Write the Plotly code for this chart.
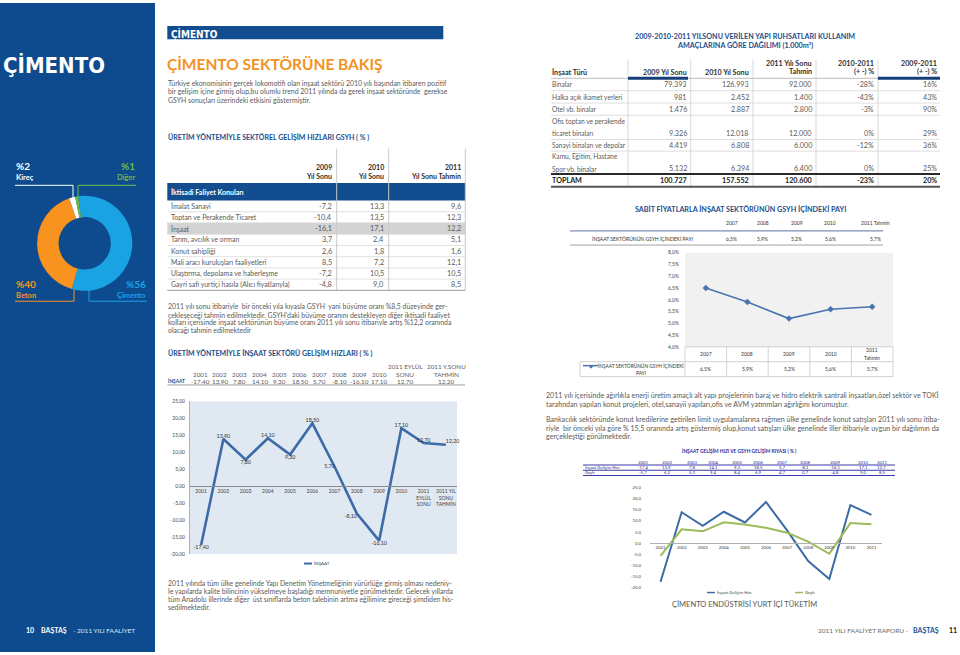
import plotly.graph_objects as go

W, H = 960, 655
def X(p): return p / W
def Y(p): return 1 - p / H

FONT = "Lato"
NARROW = "DejaVu Sans Condensed, Roboto Condensed, Roboto, sans-serif"
SIDEBAR = "#0d4b8e"
HEAD_BLUE = "#1b4d8c"
ORANGE = "#f39224"
TXT = "#5b5b5b"
DARK = "#2f2f2f"
LINE_BLUE = "#3d6ba7"
GREEN = "#9bbb59"
BODY = 6.9

# ---------------- data ----------------
mix_labels = ["Çimento", "Beton", "Kireç", "Diğer"]
mix_values = [56, 40, 2, 1]
mix_colors = ["#1aa3e3", "#f7931e", "#ffffff", "#6cbb45"]

gsyh_sectors = ["İmalat Sanayi", "Toptan ve Perakende Ticaret", "İnşaat",
                "Tarım, avcılık ve orman", "Konut sahipliği",
                "Mali aracı kuruluşları faaliyetleri",
                "Ulaştırma, depolama ve haberleşme",
                "Gayri safi yurtiçi hasıla (Alıcı fiyatlarıyla)"]
gsyh_2009 = [-7.2, -10.4, -16.1, 3.7, 2.6, 8.5, -7.2, -4.8]
gsyh_2010 = [13.3, 13.5, 17.1, 2.4, 1.8, 7.2, 10.5, 9.0]
gsyh_2011 = [9.6, 12.3, 12.2, 5.1, 1.6, 12.1, 10.5, 8.5]

insaat_table_heads = ["2001", "2002", "2003", "2004", "2005", "2006", "2007", "2008",
                      "2009", "2010", "2011 EYLÜL<br>SONU", "2011 Y.SONU<br>TAHMİN"]
insaat_axis_labels = ["2001", "2002", "2003", "2004", "2005", "2006", "2007", "2008",
                      "2009", "2010", "2011<br>EYLÜL<br>SONU", "2011 YIL<br>SONU<br>TAHMİN"]
insaat_growth = [-17.40, 13.90, 7.80, 14.10, 9.30, 18.50, 5.70, -8.10, -16.10, 17.10, 12.70, 12.20]
insaat_ticks = [25, 20, 15, 10, 5, 0, -5, -10, -15, -20]

permit_types = ["Binalar", "Halka açık ikamet yerleri", "Otel vb. binalar",
                "Ofis toptan ve perakende|ticaret binaları", "Sanayi binaları ve depolar",
                "Kamu, Eğitim, Hastane|Spor vb. binalar"]
permit_2009 = [79393, 981, 1476, 9326, 4419, 5132]
permit_2010 = [126993, 2452, 2887, 12018, 6808, 6394]
permit_2011 = [92000, 1400, 2800, 12000, 6000, 6400]
permit_chg_1011 = [-28, -43, -3, 0, -12, 0]
permit_chg_0911 = [16, 43, 90, 29, 36, 25]
permit_total_chg = [-23, 20]

share_years = ["2007", "2008", "2009", "2010", "2011 Tahmin"]
share_values = [6.5, 5.9, 5.2, 5.6, 5.7]
share_ticks = [4.0, 4.5, 5.0, 5.5, 6.0, 6.5, 7.0, 7.5, 8.0]

cmp_years = ["2001", "2002", "2003", "2004", "2005", "2006", "2007", "2008", "2009", "2010", "2011"]
cmp_insaat = [-17.4, 13.9, 7.8, 14.1, 9.3, 18.5, 5.7, -8.1, -16.1, 17.1, 12.7]
cmp_gsyh = [-5.7, 6.2, 5.3, 9.4, 8.4, 6.9, 4.7, 0.7, -4.8, 9.0, 8.5]
cmp_ticks = [25, 20, 15, 10, 5, 0, -5, -10, -15, -20]


def c1(v): return f"{v:.1f}".replace(".", ",")
def c2(v): return f"{v:.2f}".replace(".", ",")
def th(v): return f"{v:,}".replace(",", ".")

ann = []
shapes = []

def txt(x, y, s, size=BODY, color=TXT, anchor="left", bold=False, family=FONT, xref="paper"):
    ann.append(dict(x=X(x) if xref == "paper" else x, y=Y(y), xref=xref, yref="paper", text=s,
                    showarrow=False, xanchor=anchor, yanchor="middle", align=anchor,
                    borderpad=0,
                    font=dict(size=size, color=color, family=family,
                              weight="bold" if bold else "normal")))

def rect(x0, y0, x1, y1, color, layer="below"):
    shapes.append(dict(type="rect", xref="paper", yref="paper", x0=X(x0), x1=X(x1),
                       y0=Y(y1), y1=Y(y0), fillcolor=color, line=dict(width=0), layer=layer))

def line(x0, y0, x1, y1, color, width=1, layer="above"):
    shapes.append(dict(type="line", xref="paper", yref="paper", x0=X(x0), x1=X(x1),
                       y0=Y(y0), y1=Y(y1), line=dict(color=color, width=width), layer=layer))

fig = go.Figure()

# ================= SIDEBAR =================
rect(0, 0, 155, 655, SIDEBAR)
txt(2, 63, "ÇİMENTO", size=22, color="white", bold=True, family=NARROW)

cx, cy, R = 84.7, 242.5, 48
fig.add_trace(go.Pie(labels=mix_labels, values=mix_values, hole=0.55, sort=False,
                     direction="clockwise", rotation=-8, textinfo="none",
                     marker=dict(colors=mix_colors, line=dict(width=0)),
                     domain=dict(x=[X(cx - R), X(cx + R)], y=[Y(cy + R), Y(cy - R)]),
                     showlegend=False, hoverinfo="label+percent"))

txt(15, 165, "%" + str(mix_values[2]), size=10, color="white", bold=True)
txt(15, 176.5, mix_labels[2], size=7.5, color="white", bold=True)
line(15, 184, 73, 184, "white"); line(73, 184, 73, 198, "white")
txt(136, 165, "%" + str(mix_values[3]), size=10, color="#6cbb45", bold=True, anchor="right")
txt(136, 176.5, mix_labels[3], size=7.5, color="#6cbb45", bold=True, anchor="right")
line(78, 184, 136, 184, "#6cbb45"); line(78, 184, 78, 196, "#6cbb45")
txt(15, 284, "%" + str(mix_values[1]), size=10, color="#f7931e", bold=True)
txt(15, 295, mix_labels[1], size=7.5, color="#f7931e", bold=True)
line(15, 301, 74, 301, "#f7931e"); line(74, 301, 74, 289, "#f7931e")
txt(147, 284, "%" + str(mix_values[0]), size=10, color="#1aa3e3", bold=True, anchor="right")
txt(147, 295, mix_labels[0], size=7.5, color="#1aa3e3", bold=True, anchor="right")
line(89, 301, 147, 301, "#1aa3e3"); line(89, 301, 89, 289, "#1aa3e3")

txt(25, 633, "10", size=7, color="white", bold=True)
txt(40, 633, "BAŞTAŞ", size=7, color="white", bold=True)
txt(72, 633, "- 2011 YILI FAALİYET", size=6.5, color="#dfe7f2")

# ================= MIDDLE COLUMN =================
rect(167.3, 23.3, 443.3, 36.7, "#114d8f")
txt(170, 30.5, "ÇİMENTO", size=10, color="white", bold=True, family=NARROW)
txt(166, 61.5, "ÇİMENTO SEKTÖRÜNE BAKIŞ", size=15.5, color=ORANGE, bold=True)

p1 = ["Türkiye ekonomisinin gerçek lokomotifi olan inşaat sektörü 2010 yılı başından itibaren pozitif",
      "bir gelişim içine girmiş olup,bu olumlu trend 2011 yılında da gerek inşaat sektöründe  gerekse",
      "GSYH sonuçları üzerindeki etkisini göstermiştir."]
for i, s in enumerate(p1):
    txt(167, 81 + i * 8.2, s)

txt(167, 135.5, "ÜRETİM YÖNTEMİYLE SEKTÖREL GELİŞİM HIZLARI GSYH ( % )", size=7, color=HEAD_BLUE, bold=True)

# table 1
col_r = [333, 384.5, 461.5]
for x in (336.7, 388.7):
    line(x, 147, x, 290, "#c9c9c9")
line(465.3, 147, 465.3, 290, "#c9c9c9")
for x, a, b in zip(col_r, ["2009", "2010", "2011"], ["Yıl Sonu", "Yıl Sonu", "Yıl Sonu Tahmin"]):
    txt(x, 166, a, size=7, color=DARK, bold=True, anchor="right")
    txt(x, 174.3, b, size=7, color=DARK, bold=True, anchor="right")
rect(167.3, 181.7, 465.3, 199.3, "#114d8f")
txt(170, 190.5, "İktisadi Faliyet Konuları", size=7, color="white", bold=True)
row_y0, row_h = 205, 11.33
for i, name in enumerate(gsyh_sectors):
    yy = row_y0 + i * row_h
    if name == "İnşaat":
        rect(167.3, yy - 5.8, 465.3, yy + 5.8, "#d3d3d3")
    if i < len(gsyh_sectors) - 1:
        line(167.3, yy + 5.7, 465.3, yy + 5.7, "#dadada", 0.8, layer="below")
    txt(170, yy, name)
    for x, arr in zip(col_r, (gsyh_2009, gsyh_2010, gsyh_2011)):
        txt(x, yy, c1(arr[i]), size=7.3, anchor="right")
line(167.3, 290, 465.3, 290, "#9a9a9a", 1)

p2 = ["2011 yılı sonu itibariyle  bir önceki yıla kıyasla GSYH  yani büyüme oranı %8,5 düzeyinde ger-",
      "çekleşeceği tahmin edilmektedir. GSYH'daki büyüme oranını destekleyen diğer iktisadi faaliyet",
      "kolları içerisinde inşaat sektörünün büyüme oranı 2011 yılı sonu itibariyle artış %12,2 oranında",
      "olacağı tahmin edilmektedir"]
for i, s in enumerate(p2):
    txt(167, 306.5 + i * 7.9, s)

txt(167, 353.3, "ÜRETİM YÖNTEMİYLE İNŞAAT SEKTÖRÜ GELİŞİM HIZLARI ( % )", size=7, color=HEAD_BLUE, bold=True)

# mini table 2
mx = [200 + i * 19.9 for i in range(10)] + [405, 446]
for x, h in zip(mx, insaat_table_heads):
    if "<br>" in h:
        a, b = h.split("<br>")
        txt(x, 366.7, a, size=6.3, anchor="center")
        txt(x, 374.5, b, size=6.3, anchor="center")
    else:
        txt(x, 374.5, h, size=6.3, anchor="center")
txt(167, 381.8, "İNŞAAT", size=4.8, color=HEAD_BLUE, bold=True)
for x, v in zip(mx, insaat_growth):
    txt(x, 381.8, c2(v), size=6.3, anchor="center")
line(167.5, 385.5, 465, 385.5, "#a0a0a0", 1)

# chart 1
fig.add_trace(go.Scatter(x=list(range(len(insaat_growth))), y=insaat_growth, mode="lines+text",
                         line=dict(color=LINE_BLUE, width=2.6),
                         text=[c2(v) for v in insaat_growth],
                         textposition=["bottom center", "top center", "bottom center", "top center",
                                       "bottom center", "top center", "middle left", "bottom left",
                                       "bottom center", "top center", "top center", "top right"],
                         textfont=dict(size=5.3, color="#333", family=FONT),
                         xaxis="x", yaxis="y", showlegend=False, cliponaxis=False))
y1d = [Y(556), Y(402)]
fig.update_layout(
    xaxis=dict(domain=[X(190), X(457)], range=[-0.5, 11.5], anchor="free",
               position=y1d[0] + (20 / 45) * (y1d[1] - y1d[0]),
               tickmode="array", tickvals=list(range(12)), ticktext=insaat_axis_labels,
               tickfont=dict(size=5, color="#444", family=FONT), showline=True,
               linecolor="#8a8a8a", linewidth=1, showgrid=False, zeroline=False, ticks=""),
    yaxis=dict(domain=y1d, range=[-20, 25], tickmode="array", tickvals=insaat_ticks,
               ticktext=[c2(v) for v in insaat_ticks], tickfont=dict(size=5, color="#444", family=FONT),
               showgrid=False, zeroline=False, showline=True, linecolor="#b0b0b0", ticks="",
               anchor="x", ticklabelstandoff=3),
)
shapes.append(dict(type="rect", xref="x domain", yref="y domain", x0=0, x1=1, y0=0, y1=1,
                   fillcolor="#e0e8f1", line=dict(width=0), layer="below"))
line(304, 565.7, 312, 565.7, LINE_BLUE, 2)
txt(312.5, 565.7, "İNŞAAT", size=4.5, color="#444")

p3 = ["2011 yılında tüm ülke genelinde Yapı Denetim Yönetmeliğinin yürürlüğe girmiş olması nedeniy-",
      "le yapılarda kalite bilincinin yükselmeye başladığı memnuniyetle görülmektedir. Gelecek yıllarda",
      "tüm Anadolu illerinde diğer  üst sınıflarda beton talebinin artma eğilimine gireceği şimdiden his-",
      "sedilmektedir."]
for i, s in enumerate(p3):
    txt(167, 585 + i * 8.1, s)

# ================= RIGHT COLUMN =================
txt(745, 34, "2009-2010-2011 YILSONU VERİLEN YAPI RUHSATLARI KULLANIM", size=7.2, color=HEAD_BLUE, bold=True, anchor="center")
txt(745, 42.7, "AMAÇLARINA GÖRE DAĞILIMI (1.000m²)", size=7.2, color=HEAD_BLUE, bold=True, anchor="center")

rc = [688, 750, 813, 875, 938]
for x in (628, 690.7, 753, 816, 878):
    line(x, 57, x, 185, "#cfcfcf", 0.8, layer="below")
txt(551, 70, "İnşaat Türü", size=7.2, color=DARK, bold=True)
txt(rc[0], 70, "2009 Yıl Sonu", size=7.2, color=DARK, bold=True, anchor="right")
txt(rc[1], 70, "2010 Yıl Sonu", size=7.2, color=DARK, bold=True, anchor="right")
txt(rc[2], 61.3, "2011 Yılı Sonu", size=7.2, color=DARK, bold=True, anchor="right")
txt(rc[2], 69.5, "Tahmin", size=7.2, color=DARK, bold=True, anchor="right")
txt(rc[3], 61.3, "2010-2011", size=7.2, color=DARK, bold=True, anchor="right")
txt(rc[3], 69.5, "(+ -) %", size=7.2, color=DARK, bold=True, anchor="right")
txt(rc[4], 61.3, "2009-2011", size=7.2, color=DARK, bold=True, anchor="right")
txt(rc[4], 69.5, "(+ -) %", size=7.2, color=DARK, bold=True, anchor="right")
line(551, 76, 940, 76, "#bdbdbd", 1)
line(628, 76, 688, 76, "#163f7a", 3)
line(878, 76, 940, 76, "#163f7a", 3)

val_y = [82, 95.3, 107.3, 131.7, 143.7, 167.3]
sep_y = [88.5, 101, 113.3, 137.7, 149.5]
for yy in sep_y:
    line(551, yy, 940, yy, "#d6d6d6", 0.8, layer="below")
for i, name in enumerate(permit_types):
    parts = name.split("|")
    if len(parts) == 2:
        txt(551, val_y[i] - 12.2, parts[0], size=6.6)
        txt(551, val_y[i], parts[1], size=6.6)
    else:
        txt(551, val_y[i], parts[0], size=6.6)
    for x, s in zip(rc, [th(permit_2009[i]), th(permit_2010[i]), th(permit_2011[i]),
                         f"{permit_chg_1011[i]}%", f"{permit_chg_0911[i]}%"]):
        txt(x, val_y[i], s, size=7.2, anchor="right")
line(551, 172.5, 940, 172.5, "#2a2a2a", 2)
txt(551, 179, "TOPLAM", size=7.2, color="#1a1a1a", bold=True)
for x, s in zip(rc, [th(sum(permit_2009)), th(sum(permit_2010)), th(sum(permit_2011)),
                     f"{permit_total_chg[0]}%", f"{permit_total_chg[1]}%"]):
    txt(x, 179, s, size=7.2, color="#1a1a1a", bold=True, anchor="right")
line(551, 185.5, 940, 185.5, "#555555", 2)

# chart 2 header + mini table
txt(740, 208, "SABİT FİYATLARLA İNŞAAT SEKTÖRÜNÜN GSYH İÇİNDEKİ PAYI", size=7.2, color=HEAD_BLUE, bold=True, anchor="center")
st_x = [731.7, 762.7, 796.7, 830, 875]
for x, s, v in zip(st_x, share_years, share_values):
    txt(x, 221.7, s, size=5, color="#333", anchor="center")
    txt(x, 237.7, c1(v) + "%", size=5, color="#333", anchor="center")
txt(642.5, 237.7, "İNŞAAT SEKTÖRÜNÜN GSYH İÇİNDEKİ PAYI", size=5, color="#333", anchor="center")
line(570, 230, 883, 230, "#7f8fb0", 1.3)
line(570, 244.3, 883, 244.3, "#a0a0a0", 1)

fig.add_trace(go.Scatter(x=list(range(len(share_values))), y=share_values, mode="lines+markers",
                         line=dict(color="#4a74b0", width=1.6),
                         marker=dict(symbol="diamond", size=5, color="#4a74b0"),
                         xaxis="x2", yaxis="y2", showlegend=False))
fig.update_layout(
    xaxis2=dict(domain=[X(685), X(893)], range=[-0.5, 4.5], anchor="y2", showticklabels=False,
                showgrid=False, zeroline=False, showline=False, ticks=""),
    yaxis2=dict(domain=[Y(347), Y(252)], range=[4, 8], anchor="x2", tickmode="array",
                tickvals=share_ticks, ticktext=[c1(v) + "%" for v in share_ticks],
                tickfont=dict(size=5, color="#444", family=FONT), showgrid=False,
                zeroline=False, showline=False, ticks="", ticklabelstandoff=5),
)
shapes.append(dict(type="rect", xref="x2 domain", yref="y2 domain", x0=0, x1=1, y0=0, y1=1,
                   fillcolor="#f1f1f1", line=dict(width=0), layer="below"))
# data table under chart 2
GRID = "#c6c6c6"
line(685, 347, 893, 347, GRID, 0.8)
line(580, 362, 893, 362, GRID, 0.8)
line(580, 377, 893, 377, GRID, 0.8)
line(580, 362, 580, 377, GRID, 0.8)
for k in range(6):
    xx = 685 + k * (893 - 685) / 5
    line(xx, 347, xx, 377, GRID, 0.8)
for i, (s, v) in enumerate(zip(share_years, share_values)):
    if " " in s:
        a, b = s.split(" ")
        ann.append(dict(x=i, y=Y(350.5), xref="x2", yref="paper", text=a, showarrow=False,
                        font=dict(size=5, color="#333", family=FONT)))
        ann.append(dict(x=i, y=Y(358), xref="x2", yref="paper", text=b, showarrow=False,
                        font=dict(size=5, color="#333", family=FONT)))
    else:
        ann.append(dict(x=i, y=Y(354.5), xref="x2", yref="paper", text=s, showarrow=False,
                        font=dict(size=5, color="#333", family=FONT)))
    ann.append(dict(x=i, y=Y(369.5), xref="x2", yref="paper", text=c1(v) + "%", showarrow=False,
                    font=dict(size=5, color="#333", family=FONT)))
line(583, 366, 598, 366, "#4a74b0", 1.5)
txt(590.5, 366, "◆", size=5, color="#4a74b0", anchor="center")
txt(641, 366, "İNŞAAT SEKTÖRÜNÜN GSYH İÇİNDEKİ", size=4.8, color="#333", anchor="center")
txt(641, 373, "PAYI", size=4.8, color="#333", anchor="center")

# right paragraphs
p4 = ["2011 yılı içerisinde ağırlıkla enerji üretim amaçlı alt yapı projelerinin baraj ve hidro elektrik santrali inşaatları,özel sektör ve TOKİ",
      "tarafından yapılan konut projeleri, otel,sanayii yapıları,ofis ve AVM yatırımları ağırlığını korumuştur."]
for i, s in enumerate(p4):
    txt(545, 396.5 + i * 8.6, s, size=7.1)
p5 = ["Bankacılık sektöründe konut kredilerine getirilen limit uygulamalarına rağmen ülke genelinde konut satışları 2011 yılı sonu itiba-",
      "riyle  bir önceki yıla göre % 15,5 oranında artış göstermiş olup,konut satışları ülke genelinde iller itibariyle uygun bir dağılımın da",
      "gerçekleştiği görülmektedir."]
for i, s in enumerate(p5):
    txt(545, 420.5 + i * 8.6, s, size=7.1)

# chart 3 header + mini table
TBL = "#2b2b9a"
txt(739, 452, "İNŞAAT GELİŞİM HIZI VE GSYH GELİŞİM KIYASI ( % )", size=4.8, color=TBL, bold=True, anchor="center")
cx3 = [643.3, 666.7, 691.7, 713.3, 736.7, 758.3, 781.7, 805, 835, 863.3, 881.7]
for x, s, a, b in zip(cx3, cmp_years, cmp_insaat, cmp_gsyh):
    txt(x, 463.3, s, size=4.3, color=TBL, anchor="center")
    txt(x, 468.6, c1(a), size=4.3, color=TBL, anchor="center")
    txt(x, 474, c1(b), size=4.3, color=TBL, anchor="center")
txt(583.5, 468.6, "İnşaat Gelişim Hızı", size=4.3, color=TBL)
txt(583.5, 474, "Gsyh", size=4.3, color=TBL)
for yy in (466.2, 471.5, 476.8):
    line(583, yy, 895, yy, "#3a3aa8", 1.1)

fig.add_trace(go.Scatter(x=list(range(len(cmp_insaat))), y=cmp_insaat, mode="lines",
                         line=dict(color=LINE_BLUE, width=2), xaxis="x3", yaxis="y3", showlegend=False))
fig.add_trace(go.Scatter(x=list(range(len(cmp_gsyh))), y=cmp_gsyh, mode="lines",
                         line=dict(color=GREEN, width=2), xaxis="x3", yaxis="y3", showlegend=False))
y3d = [Y(590), Y(489)]
fig.update_layout(
    xaxis3=dict(domain=[X(650), X(882)], range=[-0.5, 10.5], anchor="free",
                position=y3d[0] + (20 / 45) * (y3d[1] - y3d[0]),
                tickmode="array", tickvals=list(range(11)), ticktext=cmp_years,
                tickfont=dict(size=4.3, color="#444", family=FONT), showline=True,
                linecolor="#b0b0b0", linewidth=1, showgrid=False, zeroline=False, ticks=""),
    yaxis3=dict(domain=y3d, range=[-20, 25], anchor="x3", tickmode="array", tickvals=cmp_ticks,
                ticktext=[c1(v) for v in cmp_ticks], tickfont=dict(size=4.3, color="#444", family=FONT),
                showgrid=False, zeroline=False, showline=False, ticks="", ticklabelstandoff=8),
)
line(707, 595, 715, 595, LINE_BLUE, 1.5)
txt(716, 595, "İnşaat Gelişim Hızı", size=4.3, color="#444")
line(795, 595, 803, 595, GREEN, 1.5)
txt(804, 595, "Gsyh", size=4.3, color="#444")
txt(671, 606.7, "ÇİMENTO ENDÜSTRİSİ YURT İÇİ TÜKETİM", size=7.5, color="#555")

txt(911, 633, "2011 YILI FAALİYET RAPORU - ", size=6.5, color="#6a6a6a", anchor="right")
txt(912, 633, "BAŞTAŞ", size=7, color=HEAD_BLUE, bold=True)
txt(958, 633, "11", size=7, color="#222", bold=True, anchor="right")

fig.update_layout(
    width=W, height=H, margin=dict(l=0, r=0, t=0, b=0),
    paper_bgcolor="white", plot_bgcolor="rgba(0,0,0,0)",
    annotations=ann, shapes=shapes, showlegend=False,
    font=dict(family=FONT),
)
fig.write_html("out.html", config={"displayModeBar": False},
               post_script="document.body.style.margin='0';document.body.style.padding='0';")
